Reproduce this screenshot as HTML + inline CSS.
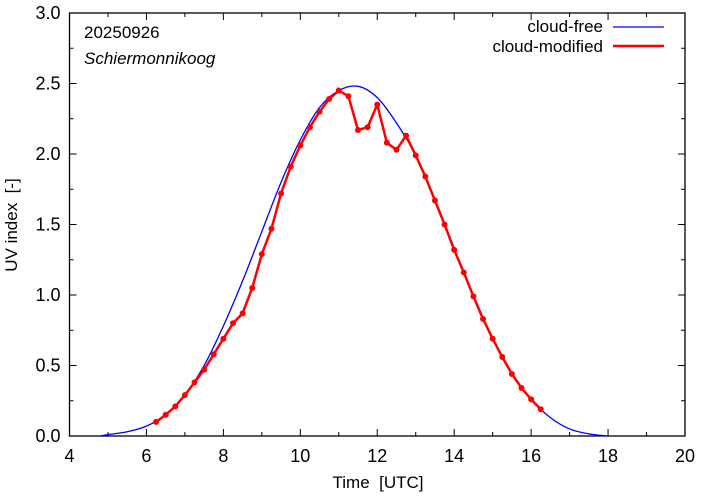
<!DOCTYPE html>
<html><head><meta charset="utf-8"><style>
body{margin:0;background:#fff}
svg{display:block;font-family:"Liberation Sans",sans-serif}
text{white-space:pre}
</style></head><body>
<svg id="chart" width="702" height="497">
<g id="axes"></g>
<g id="series"></g>
<text x="84" y="38" font-size="17">20250926</text>
<text x="84" y="64" font-size="17" font-style="italic">Schiermonnikoog</text>
<g>
<text x="603" y="32" font-size="17" text-anchor="end">cloud-free</text>
<line x1="613" y1="27" x2="664" y2="27" stroke="#0000ff" stroke-width="1.3"/>
<text x="603" y="52" font-size="17" text-anchor="end">cloud-modified</text>
<line x1="613" y1="46" x2="664" y2="46" stroke="#ff0000" stroke-width="2.5"/>
</g>
<text x="378" y="488" font-size="17" text-anchor="middle">Time&#160;&#160;[UTC]</text>
<text transform="translate(17,225) rotate(-90)" font-size="17" text-anchor="middle">UV index&#160;&#160;[-]</text>
</svg>
<script>
const xTicks=[4,6,8,10,12,14,16,18,20];
const yTicks=[0,0.5,1.0,1.5,2.0,2.5,3.0];
const clearHours=[4.8,5,5.5,6,6.5,7,7.5,8,8.5,9,9.5,10,10.5,11,11.5,12,12.5,13,13.5,14,14.5,15,15.5,16,16.5,17,17.5,18];
const clearUV=[0,0.01,0.03,0.07,0.15,0.29,0.50,0.78,1.10,1.45,1.80,2.10,2.33,2.45,2.48,2.40,2.22,1.99,1.68,1.33,0.99,0.69,0.44,0.26,0.13,0.05,0.015,0];
const cloudHours=[6.25,6.5,6.75,7,7.25,7.5,7.75,8,8.25,8.5,8.75,9,9.25,9.5,9.75,10,10.25,10.5,10.75,11,11.25,11.5,11.75,12,12.25,12.5,12.75,13,13.25,13.5,13.75,14,14.25,14.5,14.75,15,15.25,15.5,15.75,16,16.25];
const cloudUV=[0.10,0.15,0.21,0.29,0.38,0.47,0.58,0.69,0.80,0.87,1.05,1.29,1.47,1.72,1.91,2.06,2.19,2.30,2.39,2.45,2.41,2.17,2.19,2.35,2.08,2.03,2.13,1.99,1.84,1.67,1.50,1.32,1.16,0.99,0.83,0.69,0.56,0.44,0.34,0.26,0.19];
const L=69.5,R=685,T=13,B=436;
const sx=v=>L+(v-4)/16*(R-L), sy=v=>B-v/3*(B-T);
const NS="http://www.w3.org/2000/svg";
function mk(tag,attrs,parent){const e=document.createElementNS(NS,tag);for(const k in attrs)e.setAttribute(k,attrs[k]);parent.appendChild(e);return e;}
const ax=document.getElementById('axes'), se=document.getElementById('series');
const frame=mk('rect',{x:L,y:T,width:R-L,height:B-T,fill:'none',stroke:'#000','stroke-width':1.3},ax);


xTicks.forEach(v=>{
 const x=sx(v);
 mk('line',{x1:x,y1:B,x2:x,y2:B-7,stroke:'#000'},ax);mk('line',{x1:x,y1:T,x2:x,y2:T+7,stroke:'#000'},ax);
 if(v<20){const m=sx(v+1);mk('line',{x1:m,y1:B,x2:m,y2:B-4,stroke:'#000'},ax);mk('line',{x1:m,y1:T,x2:m,y2:T+4,stroke:'#000'},ax);}
 const t=mk('text',{x:x,y:B+26,'font-size':18,'text-anchor':'middle'},ax);t.textContent=v;
 
 
});
yTicks.forEach(v=>{
 const y=sy(v);
 mk('line',{x1:L,y1:y,x2:L+7,y2:y,stroke:'#000'},ax);mk('line',{x1:R,y1:y,x2:R-7,y2:y,stroke:'#000'},ax);
 if(v<3){const m=sy(v+0.25);mk('line',{x1:L,y1:m,x2:L+4,y2:m,stroke:'#000'},ax);mk('line',{x1:R,y1:m,x2:R-4,y2:m,stroke:'#000'},ax);}
 const t=mk('text',{x:L-9,y:y+6,'font-size':18,'text-anchor':'end'},ax);t.textContent=v.toFixed(1);
 
 
});
const P=clearHours.map((h,i)=>[sx(h),sy(clearUV[i])]);
let d='M'+P[0][0]+','+P[0][1];
for(let i=0;i<P.length-1;i++){const p0=P[Math.max(0,i-1)],p1=P[i],p2=P[i+1],p3=P[Math.min(P.length-1,i+2)];
 d+=` C${p1[0]+(p2[0]-p0[0])/6},${p1[1]+(p2[1]-p0[1])/6} ${p2[0]-(p3[0]-p1[0])/6},${p2[1]-(p3[1]-p1[1])/6} ${p2[0]},${p2[1]}`;}
const cf=mk('path',{d:d,fill:'none',stroke:'#0000ff','stroke-width':1.3},se);


const cm=mk('polyline',{points:cloudHours.map((h,i)=>sx(h)+','+sy(cloudUV[i])).join(' '),fill:'none',stroke:'#ff0000','stroke-width':2.5,'stroke-linejoin':'round'},se);


cloudHours.forEach((h,i)=>{const c=mk('circle',{cx:sx(h),cy:sy(cloudUV[i]),r:3,fill:'#ff0000'},se);
 
 });
</script>
</body></html>
